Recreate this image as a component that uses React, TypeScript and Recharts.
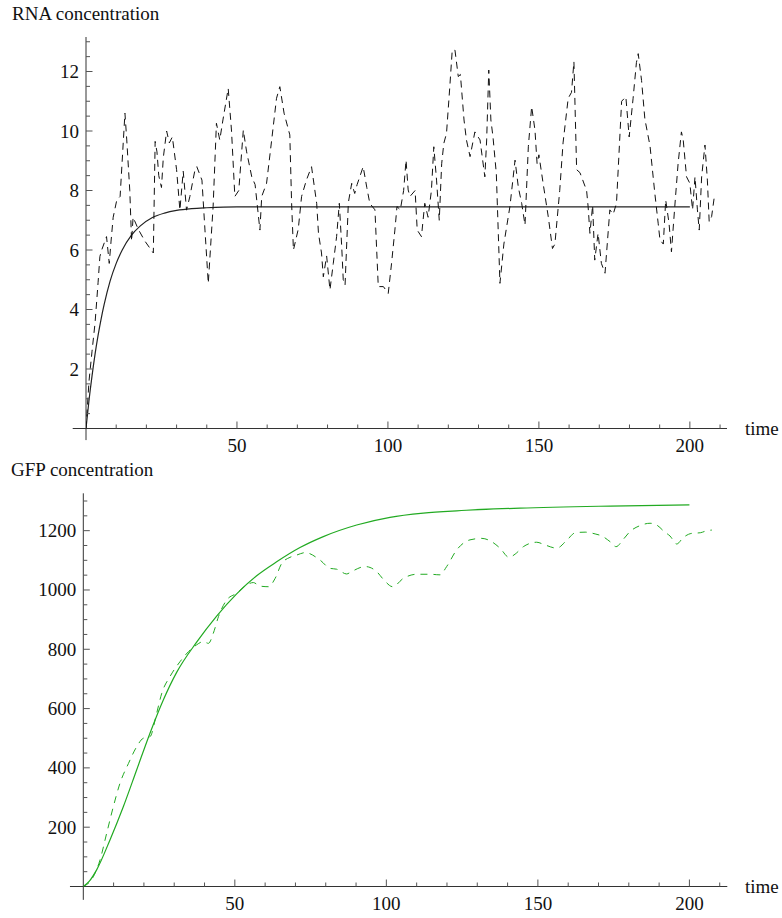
import { LineChart, Line, XAxis, YAxis, ReferenceLine } from 'recharts'

// RNA: stochastic run (dashed) and deterministic curve (solid)
const rnaNoisyT = [
  0, 1, 2, 3, 4, 4.6, 5.2, 6.8, 7.7, 8.3, 9.0, 10.2, 11.3, 12.9, 13.5, 14.5, 15.1, 15.6, 17.3, 19.5,
  22.3, 22.9, 23.5, 24.1, 25.0, 25.6, 26.7, 27.6, 28.6, 30.0, 31.1, 32.2, 33.3, 34.4, 36.1, 36.7, 38.4, 39.4, 40.5, 42.1,
  43.2, 44.3, 45.4, 47.1, 48.2, 49.3, 50.6, 52.1, 53.2, 54.9, 56.0, 57.6, 58.2, 59.8, 61.5, 63.1, 64.2, 65.6, 67.5, 68.1,
  68.7, 70.3, 71.4, 73.0, 74.7, 76.4, 77.0, 78.0, 78.6, 79.7, 80.8, 81.9, 83.0, 83.9, 84.7, 85.2, 85.8, 86.9, 88.0, 89.0,
  89.8, 91.8, 93.0, 94.0, 95.7, 96.8, 98.5, 100.1, 101.2, 102.3, 103.0, 104.1, 105.2, 106.0, 106.7, 107.3, 109.0, 109.7, 111.1, 112.2,
  113.3, 114.4, 115.2, 116.1, 117.0, 117.8, 118.5, 119.4, 120.5, 121.3, 122.2, 123.3, 124.0, 125.2, 126.0, 127.2, 128.8, 130.5, 132.1, 132.7,
  133.4, 134.1, 134.8, 135.9, 137.1, 138.4, 140.4, 142.1, 143.2, 144.3, 145.4, 146.5, 147.6, 148.7, 149.4, 150.0, 151.4, 153.1, 154.5, 155.3,
  156.9, 158.0, 159.7, 160.8, 161.6, 162.5, 163.6, 165.8, 166.3, 166.9, 167.8, 168.5, 169.6, 170.7, 171.9, 173.5, 174.6, 175.7, 177.4, 178.8,
  179.9, 181.2, 182.3, 182.9, 184.0, 185.1, 186.8, 188.4, 189.5, 190.1, 191.2, 192.0, 193.1, 193.9, 195.0, 196.1, 197.2, 197.8, 198.9, 200.0,
  200.9, 201.7, 202.5, 203.1, 203.9, 205.0, 205.8, 206.4, 207.2, 208.1,
]
const rnaNoisyV = [
  0, 1.6, 2.6, 3.55, 4.9, 5.78, 6.0, 6.45, 5.55, 6.3, 7.1, 7.68, 7.8, 10.6, 9.7, 8.0, 6.3, 7.1, 6.7, 6.3,
  5.9, 9.65, 9.3, 8.5, 8.1, 9.1, 10.0, 9.6, 9.8, 8.7, 7.34, 8.65, 7.34, 7.8, 8.7, 8.8, 8.35, 6.67, 4.88, 7.46,
  10.26, 9.7, 10.4, 11.43, 10.0, 7.8, 8.0, 10.03, 9.3, 8.46, 8.2, 6.67, 7.8, 8.24, 9.7, 11.1, 11.49, 10.6, 9.87, 7.57,
  6.0, 6.7, 7.8, 8.35, 8.8, 7.57, 6.56, 5.9, 5.1, 5.8, 4.66, 5.55, 6.45, 7.57, 6.1, 5.0, 4.82, 7.6, 8.24, 7.9,
  8.2, 8.8, 8.1, 7.57, 7.35, 4.77, 4.77, 4.54, 5.55, 6.67, 7.46, 7.35, 8.0, 9.02, 8.02, 7.8, 8.0, 6.67, 6.45, 7.57,
  7.1, 8.0, 9.47, 8.35, 7.0, 8.9, 9.58, 9.92, 11.5, 12.72, 12.72, 11.83, 11.9, 10.37, 9.7, 9.14, 9.97, 9.7, 8.46, 9.7,
  12.05, 10.37, 9.8, 8.57, 4.88, 6.2, 7.46, 9.02, 8.1, 7.57, 6.84, 9.47, 10.82, 10.03, 8.9, 9.2, 8.24, 7.12, 6.05, 6.2,
  8.0, 9.6, 11.1, 11.3, 12.33, 8.7, 8.6, 8.0, 7.46, 6.56, 7.5, 5.66, 6.56, 5.55, 5.22, 7.35, 7.2, 7.57, 11.0, 11.15,
  9.8, 11.1, 12.3, 12.6, 11.7, 10.4, 9.5, 7.9, 6.9, 6.34, 6.2, 7.68, 6.9, 5.94, 7.46, 8.9, 9.97, 9.7, 8.46, 8.24,
  7.35, 8.46, 7.35, 6.67, 8.46, 9.53, 8.35, 6.95, 7.12, 7.79,
]
const rnaMeanT = [0, 1, 2, 3, 4, 5, 6, 8, 10, 12, 15, 18, 22, 26, 30, 35, 40, 50, 200]
const rnaMeanV = [0, 0.95, 1.77, 2.5, 3.13, 3.68, 4.16, 4.96, 5.55, 6.0, 6.49, 6.81, 7.09, 7.24, 7.33, 7.39, 7.42, 7.45, 7.45]

// GFP: stochastic run (dashed) and deterministic curve (solid)
const gfpNoisyT = [
  0, 3.3, 5.5, 7.7, 9.9, 12.1, 14.9, 17.6, 19.8, 22.0, 24.2, 25.9, 28.6, 31.9, 34.7, 37.4, 39.6, 41.3, 42.9, 44.6,
  47.3, 50.6, 53.9, 56.1, 58.3, 61.1, 63.3, 65.5, 68.2, 70.5, 73.2, 78.1, 81.4, 83.6, 86.9, 88.5, 93.0, 96.8, 99.0, 102.1,
  105.6, 110.0, 114.4, 117.7, 119.9, 123.2, 127.6, 131.5, 134.2, 137.5, 140.5, 142.5, 145.2, 149.6, 152.3, 156.2, 160.1, 162.3, 165.6, 168.9,
  171.1, 173.8, 175.8, 178.2, 180.4, 183.7, 187.0, 189.2, 191.9, 193.6, 195.8, 198.0, 200.8, 203.6, 205.8, 207.4,
]
const gfpNoisyV = [
  0, 33, 89, 179, 269, 348, 415, 471, 500, 505, 584, 652, 708, 758, 792, 815, 826, 820, 854, 910,
  966, 989, 1017, 1025, 1013, 1011, 1039, 1090, 1110, 1118, 1126, 1101, 1073, 1070, 1054, 1062, 1079, 1062, 1036, 1011,
  1039, 1053, 1053, 1051, 1079, 1135, 1169, 1174, 1166, 1141, 1110, 1121, 1146, 1161, 1152, 1141, 1174, 1193, 1195, 1189,
  1182, 1163, 1146, 1171, 1197, 1217, 1225, 1219, 1195, 1182, 1155, 1177, 1191, 1193, 1200, 1202,
]
const gfpMeanT = [0, 2, 4.4, 8.8, 13.2, 17.6, 22, 26.4, 30.8, 37.4, 44, 50.6, 57.2, 63.8, 71.5, 79.2, 90.2, 101.2, 112.2, 123.2, 144.1, 173.8, 200]
const gfpMeanV = [0, 18, 56, 157, 269, 393, 517, 629, 722, 824, 912, 987, 1048, 1095, 1143, 1180, 1219, 1245, 1259, 1267, 1276, 1283, 1287]

const timeTicks = [10, 20, 30, 40, 50, 60, 70, 80, 90, 100, 110, 120, 130, 140, 150, 160, 170, 180, 190, 200, 210]
const timeLabels = [50, 100, 150, 200]
const rnaTicks = [0.5, 1, 1.5, 2, 2.5, 3, 3.5, 4, 4.5, 5, 5.5, 6, 6.5, 7, 7.5, 8, 8.5, 9, 9.5, 10, 10.5, 11, 11.5, 12, 12.5, 13]
const rnaLabels = [2, 4, 6, 8, 10, 12]
const gfpTicks = [
  50, 100, 150, 200, 250, 300, 350, 400, 450, 500, 550, 600, 650, 700, 750, 800, 850, 900, 950, 1000, 1050, 1100, 1150, 1200, 1250, 1300,
]
const gfpLabels = [200, 400, 600, 800, 1000, 1200]

const zip = (t: number[], v: number[]) => t.map((x, i) => ({ t: x, v: v[i] }))

const FONT = '"Liberation Serif", "Times New Roman", serif'
const GREEN = '#22aa22'

function XTick({ x, y, payload }: any) {
  const major = timeLabels.includes(payload.value)
  return (
    <g>
      <line x1={x} x2={x} y1={y} y2={y - (major ? 7 : 4)} stroke="#555" />
      {major && (
        <text x={x} y={y + 23.5} textAnchor="middle" fontFamily={FONT} fontSize={19} fill="#111">
          {payload.value}
        </text>
      )}
    </g>
  )
}

function makeYTick(labels: number[]) {
  return function YTick({ x, y, payload }: any) {
    const major = labels.includes(payload.value)
    return (
      <g>
        <line x1={x} x2={x + (major ? 6.5 : 4)} y1={y} y2={y} stroke="#555" />
        {major && (
          <text x={x - 7} y={y + 6.5} textAnchor="end" fontFamily={FONT} fontSize={19} fill="#111">
            {payload.value}
          </text>
        )}
      </g>
    )
  }
}

const RnaYTick = makeYTick(rnaLabels)
const GfpYTick = makeYTick(gfpLabels)

export default function App() {
  const rnaNoisy = zip(rnaNoisyT, rnaNoisyV)
  const rnaMean = zip(rnaMeanT, rnaMeanV)
  const gfpNoisy = zip(gfpNoisyT, gfpNoisyV)
  const gfpMean = zip(gfpMeanT, gfpMeanV)

  return (
    <div style={{ position: 'absolute', left: 0, top: 0, width: 782, height: 918, background: '#fff' }}>
      <div style={{ position: 'absolute', left: 0, top: 0 }}>
        <LineChart width={782} height={460} margin={{ top: 37, right: 55, bottom: 0, left: 0 }}>
          <XAxis type="number" dataKey="t" domain={[0, 212.3]} ticks={timeTicks} interval={0} allowDataOverflow
            axisLine={false} tickLine={false} tickSize={0} tickMargin={0} height={31.5} tick={<XTick />} />
          <YAxis type="number" dataKey="v" domain={[0, 13.16]} ticks={rnaTicks} interval={0} allowDataOverflow
            axisLine={false} tickLine={false} tickSize={0} tickMargin={0} width={86} tick={<RnaYTick />} />
          <ReferenceLine segment={[{ x: -4.4, y: 0 }, { x: 212.3, y: 0 }]} ifOverflow="visible" stroke="#333" />
          <ReferenceLine segment={[{ x: 0, y: -0.39 }, { x: 0, y: 13.16 }]} ifOverflow="visible" stroke="#333" />
          <Line data={rnaMean} dataKey="v" type="monotone" stroke="#222" strokeWidth={1.2} dot={false} isAnimationActive={false} />
          <Line data={rnaNoisy} dataKey="v" type="linear" stroke="#111" strokeWidth={1} strokeDasharray="7 5" dot={false} isAnimationActive={false} />
        </LineChart>
      </div>
      <div style={{ position: 'absolute', left: 0, top: 460 }}>
        <LineChart width={782} height={458} margin={{ top: 33.3, right: 54.7, bottom: 0, left: 0 }}>
          <XAxis type="number" dataKey="t" domain={[0, 212.5]} ticks={timeTicks} interval={0} allowDataOverflow
            axisLine={false} tickLine={false} tickSize={0} tickMargin={0} height={31.5} tick={<XTick />} />
          <YAxis type="number" dataKey="v" domain={[0, 1326]} ticks={gfpTicks} interval={0} allowDataOverflow
            axisLine={false} tickLine={false} tickSize={0} tickMargin={0} width={83.3} tick={<GfpYTick />} />
          <ReferenceLine segment={[{ x: -4.4, y: 0 }, { x: 212.5, y: 0 }]} ifOverflow="visible" stroke="#333" />
          <ReferenceLine segment={[{ x: 0, y: -45 }, { x: 0, y: 1326 }]} ifOverflow="visible" stroke="#333" />
          <Line data={gfpMean} dataKey="v" type="monotone" stroke={GREEN} strokeWidth={1.2} dot={false} isAnimationActive={false} />
          <Line data={gfpNoisy} dataKey="v" type="monotone" stroke={GREEN} strokeWidth={1} strokeDasharray="7 6" dot={false} isAnimationActive={false} />
        </LineChart>
      </div>
      <svg width={782} height={918} style={{ position: 'absolute', left: 0, top: 0, pointerEvents: 'none' }}>
        <g fontFamily={FONT} fontSize={19} fill="#111">
          <text x={12} y={19.5}>RNA concentration</text>
          <text x={11} y={476}>GFP concentration</text>
          <text x={745} y={435}>time</text>
          <text x={745} y={893}>time</text>
        </g>
      </svg>
    </div>
  )
}
